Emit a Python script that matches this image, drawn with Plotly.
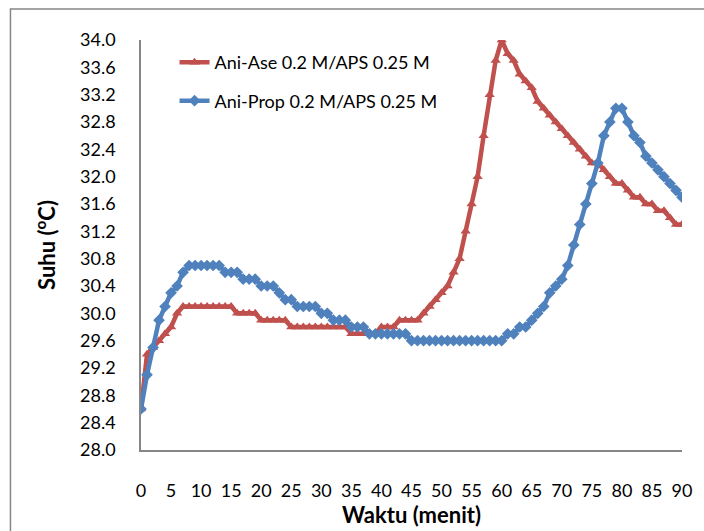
import plotly.graph_objects as go

# Time (minutes)
waktu = list(range(0, 91))

# Ani-Ase 0.2 M/APS 0.25 M
ani_ase = [
    28.6, 29.4, 29.5, 29.6, 29.7, 29.8, 30.0, 30.1, 30.1, 30.1,
    30.1, 30.1, 30.1, 30.1, 30.1, 30.1, 30.0, 30.0, 30.0, 30.0,
    29.9, 29.9, 29.9, 29.9, 29.9, 29.8, 29.8, 29.8, 29.8, 29.8,
    29.8, 29.8, 29.8, 29.8, 29.8, 29.7, 29.7, 29.7, 29.7, 29.7,
    29.8, 29.8, 29.8, 29.9, 29.9, 29.9, 29.9, 30.0, 30.1, 30.2,
    30.3, 30.4, 30.6, 30.8, 31.2, 31.6, 32.0, 32.6, 33.2, 33.7,
    34.0, 33.8, 33.7, 33.5, 33.4, 33.3, 33.1, 33.0, 32.9, 32.8,
    32.7, 32.6, 32.5, 32.4, 32.3, 32.2, 32.2, 32.1, 32.0, 31.9,
    31.9, 31.8, 31.7, 31.7, 31.6, 31.6, 31.5, 31.5, 31.4, 31.3,
    31.3,
]

# Ani-Prop 0.2 M/APS 0.25 M
ani_prop = [
    28.6, 29.1, 29.5, 29.9, 30.1, 30.3, 30.4, 30.6, 30.7, 30.7,
    30.7, 30.7, 30.7, 30.7, 30.6, 30.6, 30.6, 30.5, 30.5, 30.5,
    30.4, 30.4, 30.4, 30.3, 30.2, 30.2, 30.1, 30.1, 30.1, 30.1,
    30.0, 30.0, 29.9, 29.9, 29.9, 29.8, 29.8, 29.8, 29.7, 29.7,
    29.7, 29.7, 29.7, 29.7, 29.7, 29.6, 29.6, 29.6, 29.6, 29.6,
    29.6, 29.6, 29.6, 29.6, 29.6, 29.6, 29.6, 29.6, 29.6, 29.6,
    29.6, 29.7, 29.7, 29.8, 29.8, 29.9, 30.0, 30.1, 30.3, 30.4,
    30.5, 30.7, 31.0, 31.3, 31.6, 31.9, 32.2, 32.6, 32.8, 33.0,
    33.0, 32.8, 32.6, 32.5, 32.3, 32.2, 32.1, 32.0, 31.9, 31.8,
    31.7,
]

x_ticks = list(range(0, 91, 5))
y_ticks = [28.0, 28.4, 28.8, 29.2, 29.6, 30.0, 30.4, 30.8, 31.2, 31.6,
           32.0, 32.4, 32.8, 33.2, 33.6, 34.0]

RED = "#C0504D"
BLUE = "#4F81BD"
FONT = "Lato"

fig = go.Figure()
fig.add_trace(go.Scatter(
    x=waktu, y=ani_ase, mode="lines+markers",
    name="Ani-Ase 0.2 M/APS 0.25 M", legendgroup="a",
    line=dict(color=RED, width=4.5),
    marker=dict(symbol="triangle-up", size=9, color=RED),
))
fig.add_trace(go.Scatter(
    x=waktu, y=ani_prop, mode="lines+markers",
    name="Ani-Prop 0.2 M/APS 0.25 M", legendgroup="b",
    line=dict(color=BLUE, width=4.5),
    marker=dict(symbol="diamond", size=9, color=BLUE),
))

fig.update_layout(
    width=704, height=531,
    margin=dict(l=141, r=20, t=40, b=80),
    paper_bgcolor="white", plot_bgcolor="white",
    font=dict(family=FONT, size=18, color="#000000"),
    showlegend=True,
    legend=dict(
        x=0.062, y=0.99, xanchor="left", yanchor="top",
        bgcolor="rgba(0,0,0,0)", font=dict(size=18, family=FONT),
        traceorder="grouped", tracegroupgap=12,
    ),
    xaxis=dict(
        range=[0, 90], tickmode="array", tickvals=x_ticks,
        ticktext=[str(v) for v in x_ticks],
        showline=True, linecolor="#868686", linewidth=1.5,
        showgrid=False, zeroline=False,
        ticks="outside", ticklen=24, tickcolor="rgba(0,0,0,0)",
        tickfont=dict(size=18, family=FONT),
        title=dict(text="<b>Waktu (menit)</b>", font=dict(size=22, family=FONT), standoff=2),
    ),
    yaxis=dict(
        range=[28, 34], tickmode="array", tickvals=y_ticks,
        ticktext=[f"{v:.1f}" for v in y_ticks],
        showline=True, linecolor="#868686", linewidth=1.5,
        showgrid=False, zeroline=False,
        ticks="outside", ticklen=20, tickcolor="rgba(0,0,0,0)",
        tickfont=dict(size=18, family=FONT),
        title=dict(text="<b>Suhu (<sup>o</sup>C)</b>", font=dict(size=22, family=FONT), standoff=18),
    ),
    shapes=[dict(
        type="rect", xref="paper", yref="paper",
        x0=-0.2413, x1=1.3, y0=-0.5, y1=1.0754,
        line=dict(color="#868686", width=1.5), fillcolor="rgba(0,0,0,0)",
        layer="below",
    )],
)

fig.write_html("out.html")
